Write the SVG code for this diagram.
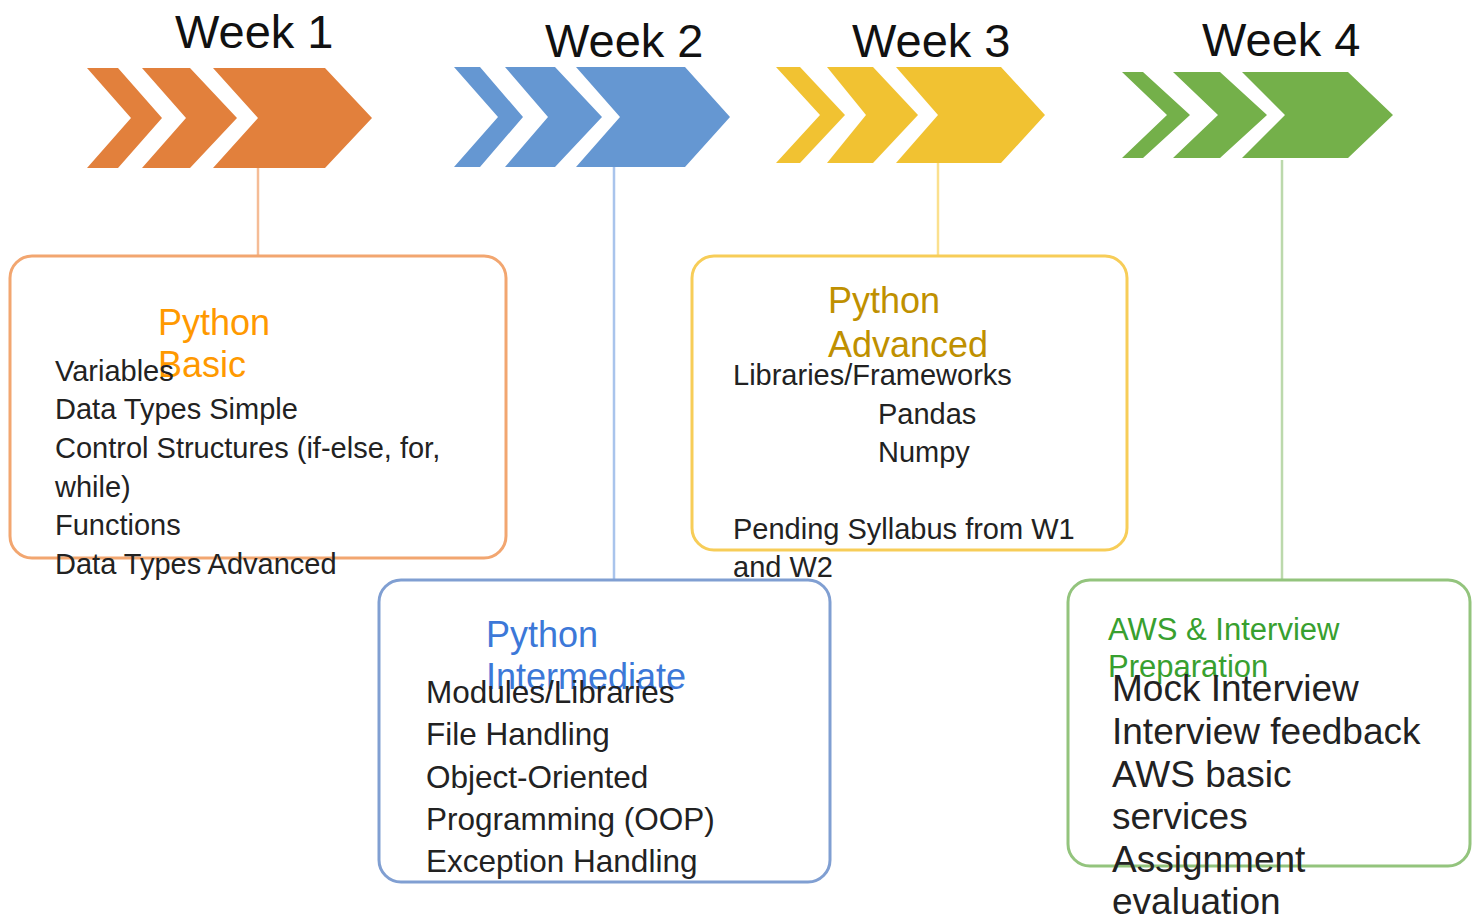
<svg xmlns="http://www.w3.org/2000/svg" width="1480" height="918" viewBox="0 0 1480 918">
<style>
text{font-family:"Liberation Sans",Arial,sans-serif}
.wk{font-size:47px;fill:#111}
.body{fill:#222}
.box{fill:none;stroke-width:3}
.conn{stroke-width:2.5;fill:none}
.o{fill:#e2803c}.b{fill:#6597d2}.y{fill:#f1c232}.g{fill:#74b04a}
</style>
<rect width="1480" height="918" fill="#fff"/>
<g id="connectors">
<line class="conn" x1="258" y1="168" x2="258" y2="255" stroke="#f5bc96"/>
<line class="conn" x1="614" y1="167" x2="614" y2="580" stroke="#a9c4ec"/>
<line class="conn" x1="938" y1="163" x2="938" y2="255" stroke="#fbe08e"/>
<line class="conn" x1="1282" y1="160" x2="1282" y2="580" stroke="#bcd9ac"/>
</g>
<g id="week1">
<text class="wk" x="175" y="48" font-size="46">Week 1</text>
<polygon class="o" points="87,68 118,68 162,118 118,168 87,168 131,118"/>
<polygon class="o" points="142,68 190,68 237,118 190,168 142,168 186,118"/>
<polygon class="o" points="213,68 325,68 372,118 325,168 213,168 258,118"/>
</g>
<g id="week2">
<text class="wk" x="545" y="57">Week 2</text>
<polygon class="b" points="454,67 480,67 523,117 480,167 454,167 498,117"/>
<polygon class="b" points="505,67 555,67 602,117 555,167 505,167 548,117"/>
<polygon class="b" points="576,67 685,67 730,117 685,167 576,167 620,117"/>
</g>
<g id="week3">
<text class="wk" x="852" y="57">Week 3</text>
<polygon class="y" points="776,67 800,67 845,115 800,163 776,163 820,115"/>
<polygon class="y" points="827,67 873,67 918,115 873,163 827,163 866,115"/>
<polygon class="y" points="896,67 1001,67 1045,115 1001,163 896,163 938,115"/>
</g>
<g id="week4">
<text class="wk" x="1202" y="56" font-size="46">Week 4</text>
<polygon class="g" points="1122,72 1143,72 1190,115 1143,158 1122,158 1167,115"/>
<polygon class="g" points="1173,72 1220,72 1267,115 1220,158 1173,158 1218,115"/>
<polygon class="g" points="1242,72 1348,72 1393,115 1348,158 1242,158 1285,115"/>
</g>
<g id="box1">
<rect class="box" x="10" y="256" width="496" height="302" rx="22" stroke="#f2a670"/>
<text x="158" y="335" font-size="36" fill="#ff9900">Python</text>
<text x="158" y="377" font-size="36" fill="#ff9900">Basic</text>
<g class="body" font-size="29">
<text x="55" y="381">Variables</text>
<text x="55" y="419">Data Types Simple</text>
<text x="55" y="458">Control Structures (if-else, for,</text>
<text x="55" y="497">while)</text>
<text x="55" y="535">Functions</text>
<text x="55" y="574">Data Types Advanced</text>
</g>
</g>
<g id="box2">
<rect class="box" x="379" y="580" width="451" height="302" rx="22" stroke="#809fd2"/>
<text x="486" y="647" font-size="36" fill="#3c78d8">Python</text>
<text x="486" y="689" font-size="36" fill="#3c78d8">Intermediate</text>
<g class="body" font-size="31.5">
<text x="426" y="703">Modules/Libraries</text>
<text x="426" y="745">File Handling</text>
<text x="426" y="788">Object-Oriented</text>
<text x="426" y="830">Programming (OOP)</text>
<text x="426" y="872">Exception Handling</text>
</g>
</g>
<g id="box3">
<rect class="box" x="692" y="256" width="435" height="294" rx="22" stroke="#f7cd58"/>
<text x="828" y="313" font-size="36" fill="#bf9000">Python</text>
<text x="828" y="357" font-size="36" fill="#bf9000">Advanced</text>
<g class="body" font-size="29">
<text x="733" y="385">Libraries/Frameworks</text>
<text x="878" y="424">Pandas</text>
<text x="878" y="462">Numpy</text>
<text x="733" y="539">Pending Syllabus from W1</text>
<text x="733" y="577">and W2</text>
</g>
</g>
<g id="box4">
<rect class="box" x="1068" y="580" width="402" height="286" rx="22" stroke="#93c47d"/>
<text x="1108" y="640" font-size="31" fill="#38a02f">AWS &amp; Interview</text>
<text x="1108" y="677" font-size="31" fill="#38a02f">Preparation</text>
<g class="body" font-size="37">
<text x="1112" y="701">Mock Interview</text>
<text x="1112" y="744">Interview feedback</text>
<text x="1112" y="787">AWS basic</text>
<text x="1112" y="829">services</text>
<text x="1112" y="872">Assignment</text>
<text x="1112" y="914">evaluation</text>
</g>
</g>
</svg>
